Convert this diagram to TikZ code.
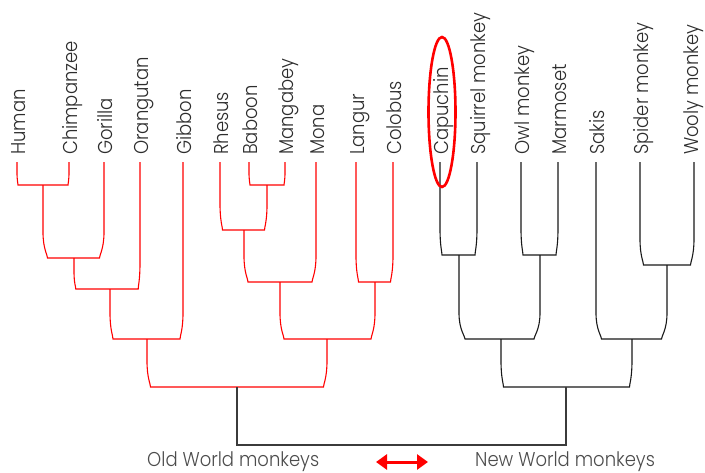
\documentclass[tikz,border=0pt]{standalone}
\usepackage{fontspec}
\IfFontExistsTF{Poppins Light}{\setmainfont{Poppins Light}[FakeStretch=0.9]}{\setmainfont{Poppins}[FakeStretch=0.9]}
\usetikzlibrary{calc,arrows.meta,shapes.geometric}
\definecolor{tred}{RGB}{255,0,0}
\definecolor{tline}{RGB}{25,25,25}
\definecolor{ttext}{RGB}{45,45,45}
\tikzset{
  branch/.style={line width=1.1pt, line join=miter},
  leaf/.style={rotate=90, anchor=base west, inner sep=0pt, text=ttext, font=\fontsize{20}{20}\selectfont},
  grouplabel/.style={anchor=base west, inner sep=0pt, text=ttext!85, font=\fontsize{20}{20}\selectfont},
}
% #1 colour, #2 left child, #3 right child, #4 parent (stem x, bar y), #5 inset
\newcommand\clade[5][tline]{%
  \draw[branch,#1] let \p1=(#2),\p2=(#3),\p3=(#4),
     \n1={min(26,0.55*(\y1-\y3))},\n2={min(26,0.55*(\y2-\y3))} in
     (\p1) -- (\x1,\y3+\n1)
     .. controls (\x1,\y3+0.35*\n1) and (\x1+#5pt,\y3+0.12*\n1) .. (\x1+#5pt,\y3)
     -- (\x2-#5pt,\y3)
     .. controls (\x2-#5pt,\y3+0.12*\n2) and (\x2,\y3+0.35*\n2) .. (\x2,\y3+\n2)
     -- (\p2);}
% #1 baseline offset, #2 name, #3 x, #4 text
\newcommand\leafnode[4][8.5]{%
  \coordinate (#2) at (#3,162);
  \node[leaf] (l#2) at (#3+#1,155) {#4};}
\begin{document}
\begin{tikzpicture}[x=1pt,y=-1pt]
\useasboundingbox (0,0) rectangle (705,472);
% leaves
\leafnode{Human}{17}{Human}
\leafnode{Chimp}{69}{Chimpanzee}
\leafnode{Gorilla}{104}{Gorilla}
\leafnode{Orang}{140}{Orangutan}
\leafnode{Gibbon}{183}{Gibbon}
\leafnode{Rhesus}{220}{Rhesus}
\leafnode{Baboon}{249}{Baboon}
\leafnode{Mangabey}{285}{Mangabey}
\leafnode{Mona}{316}{Mona}
\leafnode{Langur}{356}{Langur}
\leafnode{Colobus}{393}{Colobus}
\leafnode{Capuchin}{440}{Capuchin}
\leafnode{Squirrel}{477}{Squirrel monkey}
\leafnode{Owl}{521}{Owl monkey}
\leafnode{Marmoset}{558}{Marmoset}
\leafnode{Sakis}{596}{Sakis}
\leafnode{Spider}{640}{Spider monkey}
\leafnode[4]{Wooly}{694}{Wooly monkey}
% internal nodes
\coordinate (HC) at (43,185);
\coordinate (HCG) at (74,258);
\coordinate (HCGO) at (110,289);
\coordinate (Apes) at (147,339);
\coordinate (BM) at (267,185);
\coordinate (RBM) at (244,230);
\coordinate (RBMM) at (280,282);
\coordinate (LC) at (375,282);
\coordinate (Cerco) at (327,339);
\coordinate (OW) at (237,387);
\coordinate (CS) at (459,255);
\coordinate (OM) at (540,255);
\coordinate (CSOM) at (501,339);
\coordinate (SW) at (667,265);
\coordinate (SSW) at (632,339);
\coordinate (NW) at (566,387);
\coordinate (Root) at (401,445);
% Old World (red)
\clade[tred]{Human}{Chimp}{HC}{1}
\clade[tred]{HC}{Gorilla}{HCG}{4.5}
\clade[tred]{HCG}{Orang}{HCGO}{1.8}
\clade[tred]{HCGO}{Gibbon}{Apes}{3}
\clade[tred]{Baboon}{Mangabey}{BM}{1}
\clade[tred]{Rhesus}{BM}{RBM}{2.5}
\clade[tred]{RBM}{Mona}{RBMM}{4}
\clade[tred]{Langur}{Colobus}{LC}{2.5}
\clade[tred]{RBMM}{LC}{Cerco}{4}
\clade[tred]{Apes}{Cerco}{OW}{3.5}
% New World (black)
\clade{Capuchin}{Squirrel}{CS}{2}
\clade{Owl}{Marmoset}{OM}{2}
\clade{CS}{OM}{CSOM}{6}
\clade{Spider}{Wooly}{SW}{3.5}
\clade{Sakis}{SW}{SSW}{5.5}
\clade{CSOM}{SSW}{NW}{2.5}
% root
\draw[branch,tline!85] (OW) -- (OW |- Root) -- (NW |- Root) -- (NW);
% highlight
\node[draw=tred, line width=2.6pt, ellipse, minimum width=27pt, minimum height=150pt, inner sep=0pt] (ring) at (442,112) {};
% bottom labels and arrow
\node[grouplabel] (oldw) at (147,466.5) {Old World monkeys};
\node[grouplabel] (neww) at (475,466.5) {New World monkeys};
\coordinate (a1) at (376,462);
\coordinate (a2) at (428,462);
\draw[tred, line width=3pt, {Triangle[length=11pt,width=15pt]}-{Triangle[length=11pt,width=15pt]}] (a1) -- (a2);
\end{tikzpicture}
\end{document}
